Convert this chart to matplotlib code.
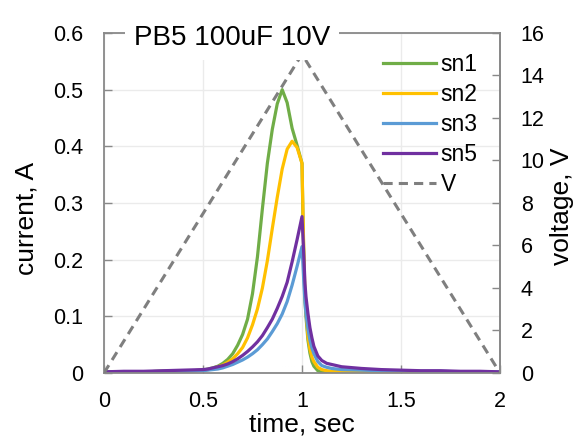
import matplotlib
matplotlib.use("Agg")
import matplotlib.pyplot as plt
from matplotlib.ticker import FormatStrFormatter, MultipleLocator

plt.rcParams["font.family"] = ["Liberation Sans", "DejaVu Sans"]

# time points shared by the current traces (sec)
t = [0, 0.1, 0.2, 0.3, 0.4,
     0.5, 0.525, 0.55, 0.575, 0.6, 0.625, 0.65, 0.675, 0.7, 0.725, 0.75,
     0.775, 0.8, 0.825, 0.85, 0.875, 0.9, 0.925, 0.95, 0.975, 1.0,
     1.005, 1.01, 1.015, 1.02, 1.03, 1.04, 1.05, 1.06, 1.08, 1.1, 1.125,
     1.15, 1.2, 1.3, 1.4, 1.5, 1.6, 1.7, 1.8, 1.9, 2.0]

# currents (A)
sn1 = [0.002, 0.002, 0.002, 0.003, 0.003,
       0.005, 0.007, 0.009, 0.012, 0.017, 0.024, 0.034, 0.049, 0.068, 0.095,
       0.14, 0.205, 0.29, 0.37, 0.43, 0.475, 0.5, 0.477, 0.432, 0.402, 0.37,
       0.27, 0.19, 0.13, 0.10, 0.058, 0.035, 0.02, 0.012, 0.004, 0.001,
       0.0, 0.0, 0.0, 0.0, 0.0, 0.0, 0.0, 0.0, 0.0, 0.0, 0.0]
sn2 = [0.002, 0.002, 0.002, 0.003, 0.003,
       0.005, 0.006, 0.008, 0.011, 0.014, 0.019, 0.025, 0.034, 0.045, 0.062,
       0.085, 0.113, 0.15, 0.198, 0.255, 0.31, 0.36, 0.395, 0.409, 0.398,
       0.37,
       0.28, 0.20, 0.14, 0.11, 0.065, 0.042, 0.028, 0.02, 0.01, 0.006,
       0.004, 0.003, 0.002, 0.002, 0.002, 0.001, 0.001, 0.001, 0.001, 0.001,
       0.001]
sn3 = [0.002, 0.002, 0.002, 0.003, 0.003,
       0.004, 0.005, 0.006, 0.007, 0.009, 0.012, 0.015, 0.019, 0.023, 0.028,
       0.034, 0.041, 0.05, 0.06, 0.073, 0.087, 0.104, 0.126, 0.155, 0.188,
       0.223,
       0.19, 0.155, 0.125, 0.105, 0.078, 0.058, 0.044, 0.034, 0.02, 0.013,
       0.010, 0.008, 0.006, 0.005, 0.004, 0.004, 0.003, 0.003, 0.002, 0.002,
       0.002]
sn5 = [0.002, 0.003, 0.003, 0.004, 0.005,
       0.006, 0.007, 0.009, 0.011, 0.013, 0.016, 0.02, 0.025, 0.031, 0.038,
       0.046, 0.055, 0.066, 0.08, 0.095, 0.114, 0.135, 0.16, 0.196, 0.235,
       0.276,
       0.24, 0.2, 0.158, 0.135, 0.105, 0.08, 0.062, 0.047, 0.03, 0.022,
       0.017, 0.015, 0.011, 0.008, 0.006, 0.005, 0.004, 0.004, 0.003, 0.003,
       0.002]

# applied voltage (V)
t_v = [0, 1, 2]
volts = [0, 15, 0]

series = [("sn1", sn1, "#70AD47"), ("sn2", sn2, "#FFC000"),
          ("sn3", sn3, "#5B9BD5"), ("sn5", sn5, "#7030A0")]

fig = plt.figure(figsize=(5.73, 4.37), dpi=100)
ax1 = fig.add_axes([0.1815, 0.1465, 0.6911, 0.778])
ax2 = ax1.twinx()

handles = []
for name, vals, col in series:
    ln, = ax1.plot(t, vals, color=col, lw=2.3, label=name,
                   solid_joinstyle="round")
    handles.append(ln)
lv, = ax2.plot(t_v, volts, color="#7F7F7F", lw=2.2, ls=(0, (3, 2)), label="V")
handles.append(lv)

ax1.set_xlim(0, 2)
ax1.set_ylim(0, 0.6)
ax2.set_ylim(0, 16)
ax1.xaxis.set_major_locator(MultipleLocator(0.5))
ax1.yaxis.set_major_locator(MultipleLocator(0.1))
ax2.yaxis.set_major_locator(MultipleLocator(2))
ax1.xaxis.set_major_formatter(FormatStrFormatter("%g"))
ax1.yaxis.set_major_formatter(FormatStrFormatter("%g"))

ax1.grid(True, color="#EBEBEB", lw=1)
ax1.set_axisbelow(True)

spine_col = "#898989"
for ax in (ax1, ax2):
    for s in ax.spines.values():
        s.set_color(spine_col)
        s.set_linewidth(1.3)
    ax.tick_params(direction="in", length=6, width=1, color=spine_col,
                   labelsize=15.5, pad=15)
ax1.tick_params(axis="x", pad=13)
for s in ("top", "left", "bottom"):
    ax2.spines[s].set_visible(False)

ax1.set_xlabel("time, sec", fontsize=19)
ax1.set_ylabel("current, A", fontsize=19)
ax2.set_ylabel("voltage, V", fontsize=19)
ax1.xaxis.set_label_coords(0.5, -0.117)
ax1.yaxis.set_label_coords(-0.165, 0.454)
ax2.yaxis.set_label_coords(1.126, 0.489)

ax2.text(0.323, 0.985, "PB5 100uF 10V", transform=ax2.transAxes,
         ha="center", va="center", fontsize=20, zorder=10, clip_on=False,
         bbox=dict(facecolor="white", edgecolor="none", pad=6.5))

ax2.legend(handles=handles, loc="upper left", bbox_to_anchor=(0.7045, 0.94),
           frameon=False, fontsize=16.5, borderpad=0, borderaxespad=0,
           handlelength=2.3, handletextpad=0.22, labelspacing=0.3)

fig.savefig("out.png", dpi=100)
